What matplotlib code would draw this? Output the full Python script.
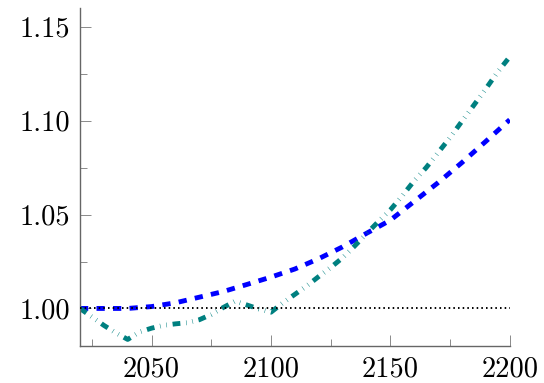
import matplotlib
matplotlib.use("Agg")
import matplotlib.pyplot as plt
from matplotlib.ticker import FixedLocator, FixedFormatter

plt.rcParams['font.family'] = 'serif'
plt.rcParams['font.serif'] = ['cmr10', 'DejaVu Serif']

# blue dashed series, every 10 years
years_blue = [2020, 2030, 2040, 2050, 2060, 2070, 2080, 2090, 2100, 2110,
              2120, 2130, 2140, 2150, 2160, 2170, 2180, 2190, 2200]
vals_blue = [1.000, 1.000, 1.000, 1.001, 1.003, 1.006, 1.009, 1.0128, 1.0167, 1.021,
             1.0265, 1.0328, 1.040, 1.047, 1.057, 1.067, 1.0777, 1.089, 1.1005]

# teal dash-dot-dot series, every 5 years
years_teal = [2020, 2025, 2030, 2035, 2040, 2045, 2050, 2055, 2060, 2065,
              2070, 2075, 2080, 2085, 2090, 2095, 2100, 2105, 2110, 2115,
              2120, 2125, 2130, 2135, 2140, 2145, 2150, 2155, 2160, 2165,
              2170, 2175, 2180, 2185, 2190, 2195, 2200]
vals_teal = [1.000, 0.9955, 0.991, 0.987, 0.9835, 0.9875, 0.9895, 0.991, 0.9918, 0.9924,
             0.994, 0.9968, 1.0005, 1.0039, 1.0018, 0.9997, 0.998, 1.003, 1.0075, 1.012,
             1.017, 1.0218, 1.027, 1.0332, 1.0398, 1.0463, 1.0525, 1.060, 1.068, 1.075,
             1.083, 1.091, 1.0997, 1.1083, 1.117, 1.126, 1.134]

ref_x = [2020, 2200]
ref_y = [1.0, 1.0]

xticks = [2050, 2100, 2150, 2200]
xminor = [2025, 2075, 2125, 2175]
yticks = [1.00, 1.05, 1.10, 1.15]
yminor = [1.025, 1.075, 1.125]

fig = plt.figure(figsize=(5.44, 3.83), dpi=100)
ax = fig.add_axes([0.147, 0.0966, 0.790, 0.8825])

ax.plot(years_blue, vals_blue, color='#0000ff', lw=3.5, linestyle=(0, (1.7, 1.7)))
ax.plot(years_teal, vals_teal, color='#008080', lw=3.5,
        linestyle=(0, (1.6, 1.2, 0.1, 1.2, 0.1, 1.2)))
# reference line drawn on top
ax.plot(ref_x, ref_y, color='black', lw=1.4, linestyle=(0, (0.8, 1.6)), zorder=5)

ax.set_xlim(2020, 2200)
ax.set_ylim(0.98, 1.16)

for s in ['top', 'right']:
    ax.spines[s].set_visible(False)
for s in ['left', 'bottom']:
    ax.spines[s].set_color('#666666')
    ax.spines[s].set_linewidth(1.0)

ax.xaxis.set_major_locator(FixedLocator(xticks))
ax.xaxis.set_major_formatter(FixedFormatter([str(v) for v in xticks]))
ax.xaxis.set_minor_locator(FixedLocator(xminor))
ax.yaxis.set_major_locator(FixedLocator(yticks))
ax.yaxis.set_major_formatter(FixedFormatter(['%.2f' % v for v in yticks]))
ax.yaxis.set_minor_locator(FixedLocator(yminor))

ax.tick_params(which='major', direction='in', length=8, width=0.6, color='#777777',
               labelsize=20.5, pad=7)
ax.tick_params(which='minor', direction='in', length=5, width=0.6, color='#777777')

fig.savefig('out.png', dpi=100)
